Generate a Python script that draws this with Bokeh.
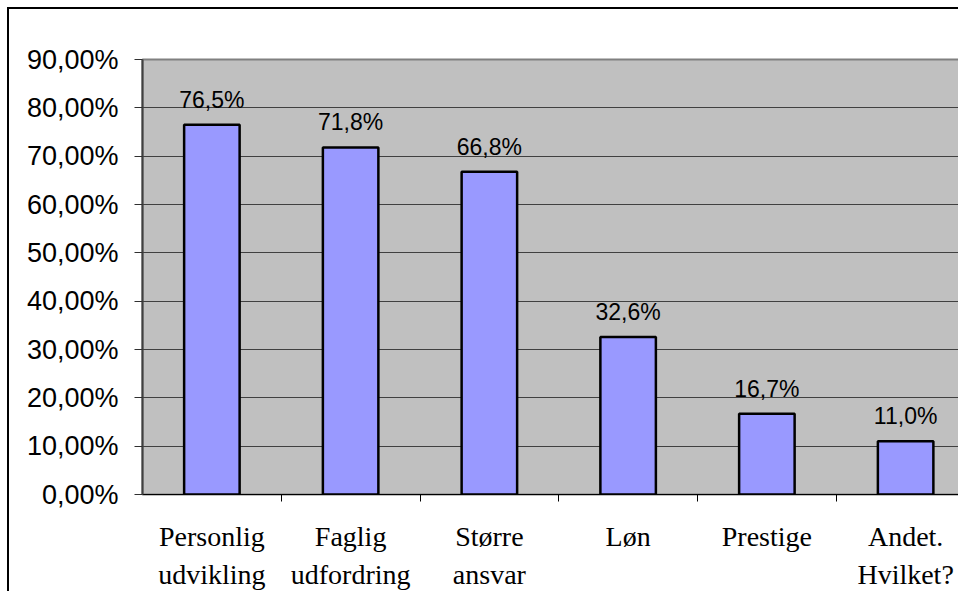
from bokeh.plotting import figure
from bokeh.models import Range1d, FixedTicker, ColumnDataSource
from bokeh.core.properties import value
from bokeh.embed import file_html
from bokeh.resources import INLINE

# Survey answers: share of respondents naming each motivation
categories = ["Personlig\nudvikling", "Faglig\nudfordring", "Større\nansvar",
              "Løn", "Prestige", "Andet.\nHvilket?"]
shares = [76.5, 71.8, 66.8, 32.6, 16.7, 11.0]
share_labels = ["76,5%", "71,8%", "66,8%", "32,6%", "16,7%", "11,0%"]
y_ticks = [0, 10, 20, 30, 40, 50, 60, 70, 80, 90]
y_tick_labels = ["0,00%", "10,00%", "20,00%", "30,00%", "40,00%",
                 "50,00%", "60,00%", "70,00%", "80,00%", "90,00%"]

centers = [i + 0.5 for i in range(len(categories))]
src = ColumnDataSource(dict(x=centers, top=shares, label=share_labels))

# the chart sits inside a thin black border offset from the page corner
OFF, BW = 7, 2
CX = OFF + BW
W, H = 960 - CX, 593 - CX
LEFT, TOP = 142 - CX, 59 - CX
BOTTOM = H - (495 - CX)
cat_px = 138.75
x_end = (W - LEFT) / cat_px

p = figure(width=W, height=H, output_backend="svg", toolbar_location=None,
           x_range=Range1d(0, x_end), y_range=Range1d(0, 90),
           min_border_left=LEFT, min_border_top=TOP, min_border_bottom=BOTTOM,
           min_border_right=0, border_fill_color="white")
p.styles = {"margin-left": f"{OFF}px", "margin-top": f"{OFF}px",
            "border-left": f"{BW}px solid black",
            "border-top": f"{BW}px solid black"}
p.background_fill_color = "#C0C0C0"
p.outline_line_color = "#808080"
p.outline_line_width = 2

p.vbar(x="x", top="top", width=0.4, bottom=0, source=src,
       fill_color="#9999FF", line_color="black", line_width=2.5)

p.text(x="x", y="top", text="label", source=src, y_offset=-25,
       text_align="center", text_baseline="alphabetic",
       text_font=value("Liberation Sans"), text_font_size="23px",
       text_color="black")

# y axis
p.yaxis.ticker = FixedTicker(ticks=y_ticks)
p.yaxis.major_label_overrides = {t: s for t, s in zip(y_ticks, y_tick_labels)}
p.yaxis.major_label_text_font = "Liberation Sans"
p.yaxis.major_label_text_font_size = "27px"
p.yaxis.major_label_text_color = "black"
p.yaxis.major_tick_out = 8
p.yaxis.major_tick_in = 0
p.yaxis.major_tick_line_color = "#303030"
p.yaxis.minor_tick_line_color = None
p.yaxis.axis_line_color = "#404040"
p.yaxis.axis_line_width = 2
p.yaxis.major_label_standoff = 16

# x axis: names at category centres, tick marks at category boundaries
p.xaxis.ticker = FixedTicker(ticks=centers, minor_ticks=[1, 2, 3, 4, 5])
p.xaxis.major_label_overrides = {c: s for c, s in zip(centers, categories)}
p.xaxis.major_label_text_font = "Liberation Serif"
p.xaxis.major_label_text_font_size = "28px"
p.xaxis.major_label_text_color = "black"
p.xaxis.major_label_text_line_height = 1.25
p.xaxis.major_tick_line_color = None
p.xaxis.minor_tick_out = 7
p.xaxis.minor_tick_in = 0
p.xaxis.minor_tick_line_color = "black"
p.xaxis.axis_line_color = "black"
p.xaxis.axis_line_width = 1
p.xaxis.major_label_standoff = 19

p.xgrid.grid_line_color = None
p.ygrid.ticker = FixedTicker(ticks=y_ticks)
p.ygrid.grid_line_color = "#404040"
p.ygrid.grid_line_width = 1

open("out.html", "w").write(file_html(p, INLINE))
